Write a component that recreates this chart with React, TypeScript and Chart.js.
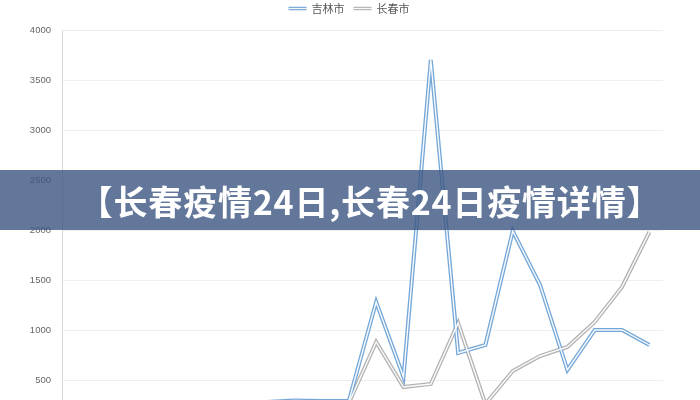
import React, { useEffect, useRef } from "react";
import { Chart, registerables } from "chart.js";

Chart.register(...registerables);

const categories: string[] = [
  "1日", "2日", "3日", "4日", "5日", "6日", "7日", "8日", "9日", "10日", "11日",
  "12日", "13日", "14日", "15日", "16日", "17日", "18日", "19日", "20日", "21日", "22日",
];
const jilinValues: number[] = [5, 10, 20, 40, 60, 100, 160, 280, 295, 290, 290, 1280, 530, 3700, 770, 850, 1990, 1450, 600, 1000, 1000, 850];
const changchunValues: number[] = [2, 5, 10, 20, 40, 60, 100, 200, 280, 290, 270, 880, 430, 460, 1070, 260, 590, 740, 830, 1080, 1430, 1980];
const seriesNames: string[] = ["吉林市", "长春市"];
const yTicks: number[] = [0, 500, 1000, 1500, 2000, 2500, 3000, 3500, 4000];
const bannerText = "【长春疫情24日,长春24日疫情详情】";

const innerLinePlugin = {
  id: "innerLine",
  afterDatasetsDraw(chart: any) {
    const ctx = chart.ctx;
    ctx.save();
    chart.data.datasets.forEach((_ds: any, i: number) => {
      const meta = chart.getDatasetMeta(i);
      ctx.beginPath();
      meta.data.forEach((pt: any, j: number) => {
        if (j === 0) ctx.moveTo(pt.x, pt.y);
        else ctx.lineTo(pt.x, pt.y);
      });
      ctx.strokeStyle = "rgba(255,255,255,0.95)";
      ctx.lineWidth = 1.4;
      ctx.lineJoin = "miter";
      ctx.stroke();
    });
    ctx.restore();
  },
  afterDraw(chart: any) {
    // legend drawn from dataset labels/colors
    const ctx = chart.ctx;
    ctx.save();
    ctx.font = "11px 'Noto Sans CJK SC', sans-serif";
    ctx.textBaseline = "middle";
    const boxW = 18;
    const gap = 5;
    const itemPad = 9;
    const items = chart.data.datasets.map((ds: any) => ({
      label: ds.label,
      color: ds.borderColor,
      w: boxW + gap + ctx.measureText(ds.label).width,
    }));
    const total = items.reduce((s: number, it: any) => s + it.w, 0) + itemPad * (items.length - 1);
    let x = 349 - total / 2;
    const y = 8.5;
    items.forEach((it: any) => {
      ctx.beginPath();
      ctx.moveTo(x, y);
      ctx.lineTo(x + boxW, y);
      ctx.strokeStyle = it.color;
      ctx.lineWidth = 3.5;
      ctx.stroke();
      ctx.beginPath();
      ctx.moveTo(x, y);
      ctx.lineTo(x + boxW, y);
      ctx.strokeStyle = "rgba(255,255,255,0.9)";
      ctx.lineWidth = 1.2;
      ctx.stroke();
      ctx.fillStyle = "#595959";
      ctx.fillText(it.label, x + boxW + gap, y);
      x += it.w + itemPad;
    });
    ctx.restore();
  },
};

function App() {
  const canvasRef = useRef<HTMLCanvasElement | null>(null);

  useEffect(() => {
    document.body.style.margin = "0";
    const canvas = canvasRef.current;
    if (!canvas) return;
    const chart = new Chart(canvas, {
      type: "line",
      data: {
        labels: categories,
        datasets: [
          {
            label: seriesNames[0],
            data: jilinValues,
            borderColor: "#74a7d8",
            backgroundColor: "#74a7d8",
            borderWidth: 4,
            pointRadius: 0,
            tension: 0,
            yAxisID: "y",
          },
          {
            label: seriesNames[1],
            data: changchunValues,
            borderColor: "#b3b3b3",
            backgroundColor: "#b3b3b3",
            borderWidth: 4,
            pointRadius: 0,
            tension: 0,
            yAxisID: "y",
          },
        ],
      },
      options: {
        animation: false,
        responsive: false,
        maintainAspectRatio: false,
        layout: { padding: { left: 0, right: 0, top: 30, bottom: 30 } },
        plugins: {
          tooltip: { enabled: false },
          legend: { display: false },
        },
        scales: {
          x: {
            offset: true,
            grid: { display: false, drawTicks: false },
            border: { display: false },
            ticks: { display: false },
          },
          y: {
            min: 0,
            max: 4000,
            afterFit: (scale: any) => {
              scale.width = 62;
            },
            afterBuildTicks: (scale: any) => {
              scale.ticks = yTicks.map((v) => ({ value: v }));
            },
            grid: { color: "#eeeeee", drawTicks: false, lineWidth: 1 },
            border: { display: true, color: "#d9d9d9" },
            ticks: {
              padding: 11,
              color: "#666666",
              font: { family: "'Liberation Sans', sans-serif", size: 9.5 },
              callback: (v: any) => String(v),
            },
          },
          yr: {
            position: "right",
            min: 0,
            max: 4000,
            afterFit: (scale: any) => {
              scale.width = 37;
            },
            grid: { display: false, drawTicks: false },
            border: { display: false },
            ticks: { color: "rgba(0,0,0,0)" },
          },
        },
      },
      plugins: [innerLinePlugin],
    });
    return () => chart.destroy();
  }, []);

  return (
    <div style={{ position: "relative", width: 700, height: 400, overflow: "hidden", background: "#ffffff" }}>
      <canvas ref={canvasRef} width={700} height={460} style={{ display: "block", width: 700, height: 460 }} />
      <div
        style={{
          position: "absolute",
          left: 0,
          top: 170,
          width: 700,
          height: 60,
          boxSizing: "border-box",
          paddingLeft: 40,
          background: "rgba(60,85,130,0.8)",
          display: "flex",
          alignItems: "center",
          justifyContent: "center",
          color: "#ffffff",
          fontFamily: "'Noto Sans CJK SC', sans-serif",
          fontWeight: 700,
          fontSize: 34,
          letterSpacing: 0.8,
          whiteSpace: "nowrap",
        }}
      >
        {bannerText}
      </div>
    </div>
  );
}

export default App;
